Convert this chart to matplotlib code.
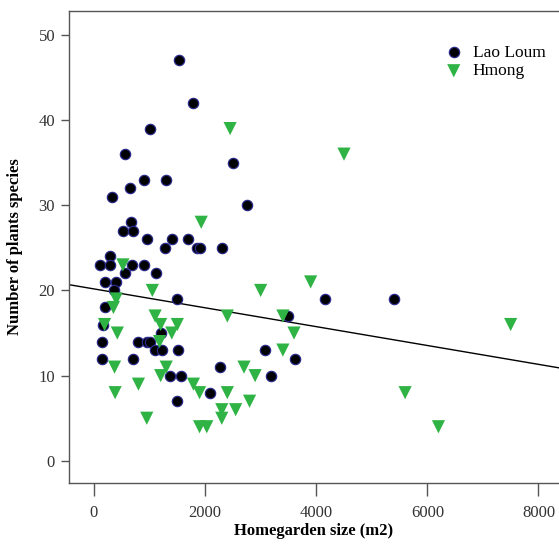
import numpy as np
import matplotlib
matplotlib.use("Agg")
import matplotlib.pyplot as plt

plt.rcParams["font.family"] = ["Liberation Serif", "DejaVu Serif"]

# Lao Loum homegardens: size (m2), number of plant species
lao_size = [1530, 1790, 1010, 550, 900, 1300, 650, 330, 2500, 2750,
            660, 520, 710, 950, 1400, 1700, 1270, 1850, 1910, 2300,
            280, 110, 290, 690, 900, 560, 1110, 200, 390, 360,
            1500, 4150, 5400, 190, 3500, 170, 1200, 150, 790, 960,
            1010, 1100, 1220, 1510, 3080, 140, 700, 3620, 2270, 1370,
            1570, 3190, 2090, 1500]
lao_species = [47, 42, 39, 36, 33, 33, 32, 31, 35, 30,
               28, 27, 27, 26, 26, 26, 25, 25, 25, 25,
               24, 23, 23, 23, 23, 22, 22, 21, 21, 20,
               19, 19, 19, 18, 17, 16, 15, 14, 14, 14,
               14, 13, 13, 13, 13, 12, 12, 12, 11, 10,
               10, 10, 8, 7]

# Hmong homegardens
hmong_size = [2450, 4500, 1930, 520, 3900, 1050, 3000, 400, 350, 2400,
              3400, 1100, 190, 1200, 1500, 7500, 420, 1400, 3600, 1180,
              3400, 370, 1300, 2700, 1200, 2900, 800, 1790, 380, 1900,
              2400, 5600, 2800, 2300, 2550, 950, 2300, 1900, 2030, 6200]
hmong_species = [39, 36, 28, 23, 21, 20, 20, 19, 18, 17,
                 17, 17, 16, 16, 16, 16, 15, 15, 15, 14,
                 13, 11, 11, 11, 10, 10, 9, 9, 8, 8,
                 8, 8, 7, 6, 6, 5, 5, 4, 4, 4]

fig = plt.figure(figsize=(5.59, 5.46), dpi=100)
ax = fig.add_axes([69 / 559, 63 / 546, 490 / 559, 472 / 546])

ax.scatter(lao_size, lao_species, s=55, marker="o", color="black",
           edgecolors="#2a2a8a", linewidths=0.9, label="Lao Loum", zorder=3)
ax.scatter(hmong_size, hmong_species, s=90, marker="v", color="#2eb344",
           edgecolors="none", label="Hmong", zorder=3)

# linear fit over all homegardens
all_x = np.array(lao_size + hmong_size, dtype=float)
all_y = np.array(lao_species + hmong_species, dtype=float)
slope, intercept = np.polyfit(all_x, all_y, 1)
xs = np.array([-450, 8370])
ax.plot(xs, intercept + slope * xs, color="black", lw=1.0, zorder=2)

ax.set_xlim(-450, 8370)
ax.set_ylim(-2.6, 52.8)
ax.set_xticks([0, 2000, 4000, 6000, 8000])
ax.set_yticks([0, 10, 20, 30, 40, 50])

for side in ["left", "bottom", "top"]:
    ax.spines[side].set_color("#555555")
    ax.spines[side].set_linewidth(1.0)
ax.spines["right"].set_visible(False)
ax.tick_params(axis="x", direction="out", length=9, width=1, pad=7,
               colors="#555555", labelcolor="#333333", labelsize=12)
ax.tick_params(axis="y", direction="out", length=6, width=1, pad=4,
               colors="#555555", labelcolor="#333333", labelsize=12)

ax.set_xlabel("Homegarden size (m2)", fontsize=12, fontweight="bold", labelpad=1)
ax.set_ylabel("Number of plants species", fontsize=12, fontweight="bold", labelpad=11)

ax.legend(loc="upper left", bbox_to_anchor=(0.725, 0.955), frameon=False,
          fontsize=12.5, handletextpad=0.1, labelspacing=0.15, borderpad=0.2)

fig.savefig("out.png", dpi=100)
